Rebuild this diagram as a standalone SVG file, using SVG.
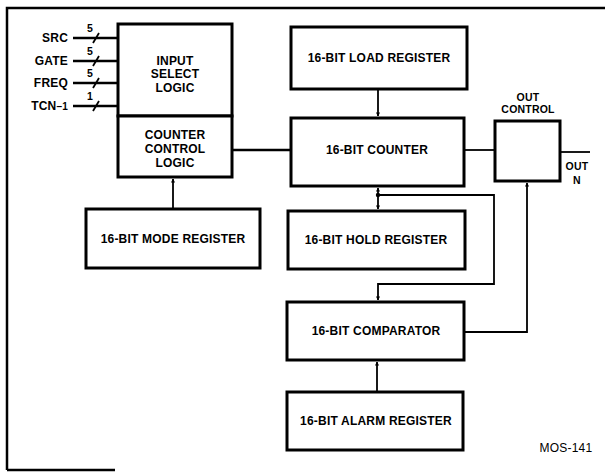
<svg xmlns="http://www.w3.org/2000/svg" width="605" height="472" viewBox="0 0 605 472">
<defs>
<style>
.box{fill:#fff;stroke:#000;stroke-width:3}
.ln{fill:none;stroke:#000;stroke-width:2.5}
.thin{fill:none;stroke:#000;stroke-width:1.8}
text{font-family:"Liberation Sans",Arial,sans-serif;font-weight:bold;font-size:12px;fill:#000;letter-spacing:0.2px}
.c{text-anchor:middle}
.r{text-anchor:end}
.sm{font-size:10.5px}
</style>
<marker id="ah" viewBox="0 0 10 10" refX="9" refY="5" markerWidth="4" markerHeight="5" orient="auto-start-reverse" markerUnits="userSpaceOnUse">
<path d="M0,0 L10,5 L0,10 z" fill="#000"/>
</marker>
</defs>
<rect width="605" height="472" fill="#fff"/>
<g id="frame">
<path d="M7,470 L7,8 L605,8" class="ln" stroke-width="3"/>
<path d="M7,470 L115,470" class="ln"/>
</g>
<g id="connectors">
<path d="M73,38 L118,38 M73,61 L118,61 M73,83 L118,83 M73,106 L118,106" class="ln"/>
<path d="M93,43 L99,33 M93,66 L99,56 M93,88 L99,78 M93,111 L99,101" class="thin" stroke-width="1.5"/>
<path d="M232,150 L291,150" class="ln"/>
<path d="M173,209 L173,179" class="thin" marker-end="url(#ah)"/>
<path d="M378,89 L378,116" class="thin" marker-end="url(#ah)"/>
<path d="M378,188 L378,209" class="thin" marker-start="url(#ah)" marker-end="url(#ah)"/>
<circle cx="378" cy="195" r="2.2" fill="#000"/>
<path d="M378,195 L494,195 L494,284 L378,284 L378,300" class="thin" marker-end="url(#ah)"/>
<path d="M377,392 L377,362" class="thin" marker-end="url(#ah)"/>
<path d="M464,150 L495,150" class="thin"/>
<path d="M560,152 L590,152" class="thin"/>
<path d="M464,332 L527,332 L527,183" class="thin" marker-end="url(#ah)"/>
</g>
<g id="labels">
<text x="68" y="42" class="r">SRC</text>
<text x="68" y="65" class="r">GATE</text>
<text x="68" y="87" class="r">FREQ</text>
<text x="68" y="110" class="r">TCN<tspan font-size="10">–1</tspan></text>
<text x="90" y="32" class="c sm">5</text>
<text x="90" y="55" class="c sm">5</text>
<text x="90" y="77" class="c sm">5</text>
<text x="90" y="100" class="c sm">1</text>
<text x="577" y="170" class="c sm">OUT</text>
<text x="577" y="184" class="c sm">N</text>
<text x="566" y="452" class="c" style="font-weight:normal">MOS-141</text>
</g>
<g id="input-select">
<rect x="118" y="24" width="114" height="92" class="box"/>
<text x="175" y="65" class="c">INPUT</text>
<text x="175" y="78" class="c">SELECT</text>
<text x="175" y="92" class="c">LOGIC</text>
</g>
<g id="counter-control">
<rect x="118" y="116" width="114" height="61" class="box"/>
<text x="175" y="139" class="c">COUNTER</text>
<text x="175" y="153" class="c">CONTROL</text>
<text x="175" y="167" class="c">LOGIC</text>
</g>
<g id="mode-register">
<rect x="86" y="209" width="174" height="59" class="box"/>
<text x="173" y="243" class="c">16-BIT MODE REGISTER</text>
</g>
<g id="load-register">
<rect x="291" y="27" width="176" height="62" class="box"/>
<text x="379" y="62" class="c">16-BIT LOAD REGISTER</text>
</g>
<g id="counter">
<rect x="291" y="118" width="173" height="68" class="box"/>
<text x="377" y="154" class="c">16-BIT COUNTER</text>
</g>
<g id="out-control">
<rect x="495" y="121" width="65" height="60" class="box"/>
<text x="528" y="101" class="c sm">OUT</text>
<text x="528" y="113" class="c sm">CONTROL</text>
</g>
<g id="hold-register">
<rect x="288" y="211" width="177" height="58" class="box"/>
<text x="376" y="244" class="c">16-BIT HOLD REGISTER</text>
</g>
<g id="comparator">
<rect x="287" y="302" width="177" height="58" class="box"/>
<text x="376" y="335" class="c">16-BIT COMPARATOR</text>
</g>
<g id="alarm-register">
<rect x="287" y="392" width="176" height="58" class="box"/>
<text x="376" y="425" class="c">16-BIT ALARM REGISTER</text>
</g>
</svg>
